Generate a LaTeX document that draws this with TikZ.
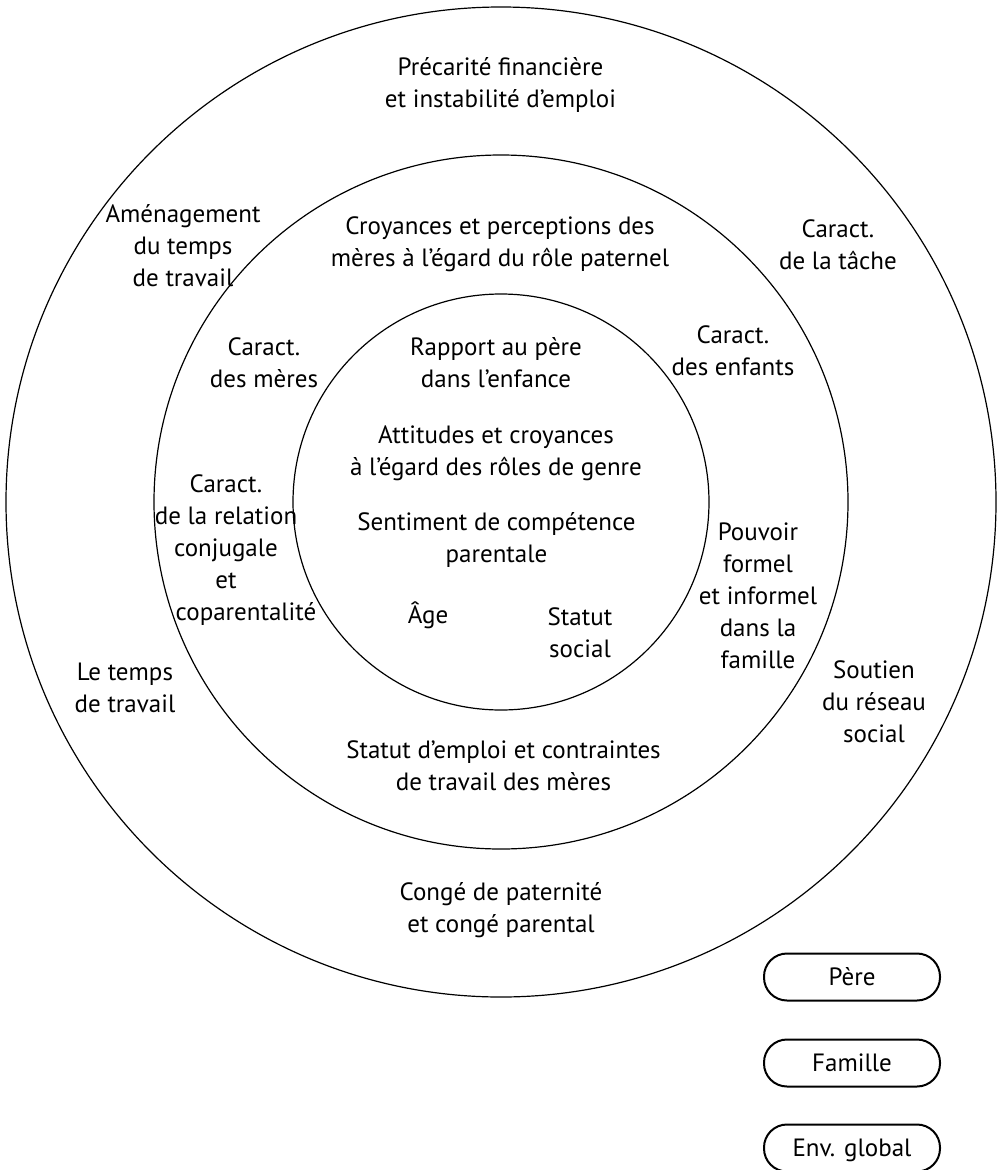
\documentclass[tikz,border=0pt]{standalone}
\usepackage{fontspec}
\setmainfont{PT Sans}
\newcommand\mylines[1]{\begin{tabular}[t]{@{}c@{}}#1\end{tabular}}
\begin{document}
\begin{tikzpicture}[x=1pt,y=-1pt,
  ring/.style={circle,draw,line width=1.2pt,inner sep=0pt},
  lab/.style={anchor=base,inner sep=0pt,font=\fontsize{25}{32}\selectfont},
  legendbox/.style={draw,line width=2pt,rounded corners=23pt,minimum width=176pt,minimum height=47pt,inner sep=0pt,text height=17pt,text depth=0pt,font=\fontsize{25}{32}\selectfont}]
\useasboundingbox (0,0) rectangle (1005,1170);
% rings
\node[ring,minimum size=990pt] (outer) at (501,502) {};
\node[ring,minimum size=694pt] (middle) at (501,502) {};
\node[ring,minimum size=416pt] (inner) at (501,502) {};
% outer ring labels
\node[lab] (precarite) at (500.5,75) {\mylines{Précarité financière\\et instabilité d’emploi}};
\node[lab] (amenagement) at (183,222) {\mylines{Aménagement\\du temps\\de travail}};
\node[lab] (tache) at (838,237) {\mylines{Caract.\\de la tâche}};
\node[lab] (tempstravail) at (125,680) {\mylines{Le temps\\de travail}};
\node[lab] (soutien) at (874,678) {\mylines{Soutien\\du réseau\\social}};
\node[lab] (conge) at (501,900) {\mylines{Congé de paternité\\et congé parental}};
% middle ring labels
\node[lab] (croyances) at (500,234) {\mylines{Croyances et perceptions des\\mères à l’égard du rôle paternel}};
\node[lab] (meres) at (264,355) {\mylines{Caract.\\des mères}};
\node[lab] (enfants) at (733,343) {\mylines{Caract.\\des enfants}};
\node[lab] (relation) at (226,492) {\mylines{Caract.\\de la relation\\conjugale\\et\\\hspace*{40pt}coparentalité}};
\node[lab] (pouvoir) at (758,540) {\mylines{Pouvoir\\formel\\et informel\\dans la\\famille}};
\node[lab] (emploi) at (503.5,758) {\mylines{Statut d’emploi et contraintes\\de travail des mères}};
% inner circle labels
\node[lab] (rapport) at (496,355) {\mylines{Rapport au père\\dans l’enfance}};
\node[lab] (attitudes) at (496,443) {\mylines{Attitudes et croyances\\à l’égard des rôles de genre}};
\node[lab] (sentiment) at (496.5,530) {\mylines{Sentiment de compétence\\parentale}};
\node[lab] (age) at (428,623) {Âge};
\node[lab] (statut) at (580,625) {\mylines{Statut\\social}};
% legend
\node[legendbox] (pere) at (852,977) {Père};
\node[legendbox] (famille) at (852,1063) {Famille};
\node[legendbox] (envglobal) at (852,1148) {Env. global};
\end{tikzpicture}
\end{document}
